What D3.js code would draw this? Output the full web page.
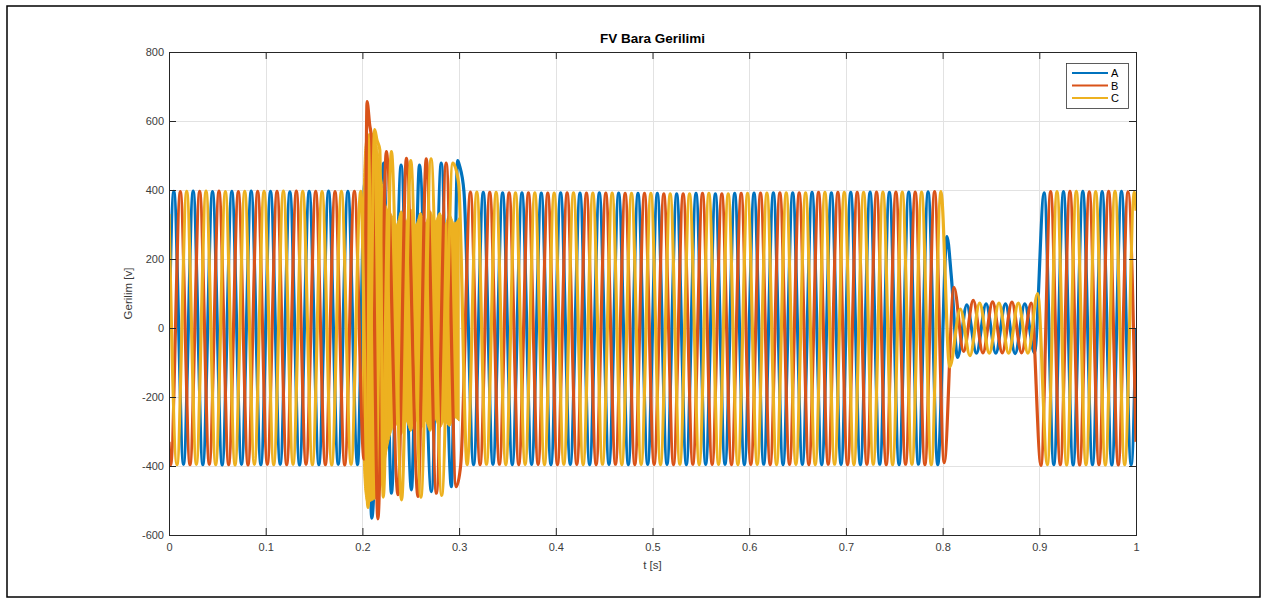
<!DOCTYPE html>
<html>
<head>
<meta charset="utf-8">
<script src="https://cdn.jsdelivr.net/npm/d3@7"></script>
<style>
  html, body { margin: 0; padding: 0; background: #fff; }
  svg { display: block; font-family: "Liberation Sans", Arial, Helvetica, sans-serif; }
</style>
</head>
<body>
<svg id="chart" width="1267" height="604"></svg>
<script>
// ---- data -------------------------------------------------------------
const phases  = ["A", "B", "C"];
const colours = ["#0072BD", "#D95319", "#EDB120"];

const xTicks = [0, 0.1, 0.2, 0.3, 0.4, 0.5, 0.6, 0.7, 0.8, 0.9, 1];
const yTicks = [-600, -400, -200, 0, 200, 400, 600, 800];

// Turning points of each phase voltage: [time s, voltage V]
const turnA = [
  [0,0],
  [0.005,396],[0.015,-395],[0.025,397],[0.035,-396],[0.045,395],[0.055,-397],[0.065,396],[0.075,-395],[0.085,397],[0.095,-396],
  [0.105,396],[0.115,-395],[0.125,395],[0.135,-397],[0.145,396],[0.155,-396],[0.165,397],[0.175,-395],[0.185,396],[0.195,-396],
  [0.2025,420],[0.2097,-551],[0.222,478],[0.230,-479],[0.240,472],[0.2507,-469],[0.259,472],[0.2713,-474],[0.2815,478],[0.292,-460],
  [0.2985,485],[0.3005,470],
  [0.305,396],[0.315,-396],[0.325,393],[0.335,-395],[0.345,392],[0.355,-396],[0.365,392],[0.375,-395],[0.385,391],[0.395,-396],
  [0.405,392],[0.415,-395],[0.425,391],[0.435,-396],[0.445,392],[0.455,-395],[0.465,391],[0.475,-396],[0.485,390],[0.495,-395],
  [0.505,390],[0.515,-395],[0.525,389],[0.535,-396],[0.545,390],[0.555,-395],[0.565,389],[0.575,-395],[0.585,390],[0.595,-396],
  [0.605,391],[0.615,-395],[0.625,392],[0.635,-396],[0.645,392],[0.655,-395],[0.665,393],[0.675,-396],[0.685,392],[0.695,-395],
  [0.705,393],[0.715,-396],[0.725,394],[0.735,-395],[0.745,393],[0.755,-396],[0.765,394],[0.775,-395],[0.785,395],[0.795,-396],
  [0.8045,265],[0.809,150],[0.8155,-85],[0.825,67],[0.835,-73],[0.845,70],[0.855,-73],[0.865,70],[0.875,-74],[0.885,70],[0.895,-72],
  [0.905,392],[0.915,-396],[0.925,395],[0.935,-397],[0.945,396],[0.955,-396],[0.965,395],[0.975,-397],[0.985,396],[0.995,-396],
  [1.0,0]
];

const turnB = [
  [0,-330],
  [0.0017,-396],[0.0117,395],[0.0217,-396],[0.0317,396],[0.0417,-395],[0.0517,397],[0.0617,-396],[0.0717,395],[0.0817,-397],[0.0917,396],
  [0.1017,-395],[0.1117,396],[0.1217,-396],[0.1317,397],[0.1417,-395],[0.1517,396],[0.1617,-396],[0.1717,395],[0.1817,-397],[0.1917,396],
  [0.2017,-380],[0.2048,656],[0.2075,590],[0.2095,548],[0.216,-553],[0.2248,511],[0.2368,-483],[0.2455,492],[0.2575,-488],[0.266,490],
  [0.2765,-479],[0.2866,478],[0.297,-460],
  [0.3017,-396],[0.3117,394],[0.3217,-396],[0.3317,393],[0.3417,-395],[0.3517,392],[0.3617,-396],[0.3717,392],[0.3817,-395],[0.3917,391],
  [0.4017,-396],[0.4117,392],[0.4217,-395],[0.4317,391],[0.4417,-396],[0.4517,391],[0.4617,-395],[0.4717,390],[0.4817,-396],[0.4917,390],
  [0.5017,-395],[0.5117,389],[0.5217,-396],[0.5317,389],[0.5417,-395],[0.5517,390],[0.5617,-395],[0.5717,389],[0.5817,-396],[0.5917,390],
  [0.6017,-395],[0.6117,391],[0.6217,-396],[0.6317,392],[0.6417,-395],[0.6517,392],[0.6617,-396],[0.6717,393],[0.6817,-395],[0.6917,393],
  [0.7017,-396],[0.7117,393],[0.7217,-395],[0.7317,394],[0.7417,-396],[0.7517,394],[0.7617,-395],[0.7717,394],[0.7817,-396],[0.7917,395],
  [0.8017,-390],[0.8117,118],[0.8217,-68],[0.8317,80],[0.8417,-72],[0.8517,76],[0.8617,-72],[0.8717,75],[0.8817,-72],[0.8917,72],
  [0.9017,-398],[0.9117,395],[0.9217,-396],[0.9317,396],[0.9417,-397],[0.9517,395],[0.9617,-396],[0.9717,396],[0.9817,-397],[0.9917,395],
  [1.0,-330]
];

const turnC = [
  [0,330],
  [0.0083,-396],[0.0183,396],[0.0283,-395],[0.0383,397],[0.0483,-396],[0.0583,395],[0.0683,-397],[0.0783,396],[0.0883,-395],[0.0983,396],
  [0.1083,-396],[0.1183,397],[0.1283,-395],[0.1383,396],[0.1483,-396],[0.1583,395],[0.1683,-397],[0.1783,396],[0.1883,-395],[0.1983,396],
  [0.2058,-520],[0.2127,575],[0.215,545],[0.218,516],[0.2215,-490],[0.230,511],[0.2405,-498],[0.250,485],[0.2605,-490],[0.271,490],
  [0.282,-485],[0.2935,478],[0.2995,420],
  [0.3083,-396],[0.3183,394],[0.3283,-395],[0.3383,393],[0.3483,-396],[0.3583,392],[0.3683,-395],[0.3783,392],[0.3883,-396],[0.3983,391],
  [0.4083,-395],[0.4183,392],[0.4283,-396],[0.4383,391],[0.4483,-395],[0.4583,391],[0.4683,-396],[0.4783,390],[0.4883,-395],[0.4983,390],
  [0.5083,-396],[0.5183,389],[0.5283,-395],[0.5383,389],[0.5483,-396],[0.5583,390],[0.5683,-395],[0.5783,389],[0.5883,-396],[0.5983,390],
  [0.6083,-395],[0.6183,391],[0.6283,-396],[0.6383,392],[0.6483,-395],[0.6583,392],[0.6683,-396],[0.6783,393],[0.6883,-395],[0.6983,393],
  [0.7083,-396],[0.7183,393],[0.7283,-395],[0.7383,394],[0.7483,-396],[0.7583,394],[0.7683,-395],[0.7783,394],[0.7883,-396],[0.7983,395],
  [0.8073,-113],[0.8183,55],[0.8283,-80],[0.8383,72],[0.8483,-73],[0.8583,72],[0.8683,-73],[0.8783,72],[0.8883,-73],[0.8983,100],
  [0.9083,-396],[0.9183,395],[0.9283,-397],[0.9383,396],[0.9483,-396],[0.9583,395],[0.9683,-397],[0.9783,396],[0.9883,-396],[0.9983,394],
  [1.0,340]
];

// Envelope of the fast switching ripple on phase C during the 0.2–0.3 s disturbance
const rippleT  = [0.2, 0.2025, 0.205, 0.21, 0.215, 0.22, 0.225, 0.23, 0.235, 0.24, 0.245, 0.25, 0.255, 0.26,
                  0.265, 0.27, 0.275, 0.28, 0.285, 0.29, 0.295, 0.3];
const rippleHi = [300, 520, 560, 565, 530, 430, 350, 330, 300, 340, 310, 345, 300, 335,
                  305, 340, 310, 335, 300, 330, 305, 320];
const rippleLo = [-300, -470, -505, -500, -490, -450, -360, -300, -280, -310, -270, -300, -265, -295,
                  -270, -300, -265, -290, -270, -285, -260, -270];

const titleText = "FV Bara Gerilimi";
const xLabel = "t [s]";
const yLabel = "Gerilim [v]";

// ---- layout -----------------------------------------------------------
const plot = { left: 169, right: 1136, top: 52, bottom: 535 };
const axisColour = "#262626";
const gridColour = "#e2e2e2";
const tickColour = "#3c3c3c";

const svg = d3.select("#chart");

// figure frame
svg.append("rect")
  .attr("x", 7).attr("y", 6).attr("width", 1253).attr("height", 591)
  .attr("fill", "#fff").attr("stroke", "#000").attr("stroke-width", 1.5);

const x = d3.scaleLinear().domain([0, 1]).range([plot.left, plot.right]);
const y = d3.scaleLinear().domain([-600, 800]).range([plot.bottom, plot.top]);

// grid
const grid = svg.append("g").attr("stroke", gridColour).attr("stroke-width", 1);
grid.selectAll("line.gx").data(xTicks).join("line")
  .attr("x1", d => Math.round(x(d)) + 0.5).attr("x2", d => Math.round(x(d)) + 0.5)
  .attr("y1", plot.top).attr("y2", plot.bottom);
grid.selectAll("line.gy").data(yTicks).join("line")
  .attr("y1", d => Math.round(y(d)) + 0.5).attr("y2", d => Math.round(y(d)) + 0.5)
  .attr("x1", plot.left).attr("x2", plot.right);

// waveforms
svg.append("clipPath").attr("id", "plotClip")
  .append("rect").attr("x", plot.left).attr("y", plot.top)
  .attr("width", plot.right - plot.left).attr("height", plot.bottom - plot.top);

const waves = svg.append("g").attr("clip-path", "url(#plotClip)");
const line = d3.line().x(d => x(d[0])).y(d => y(d[1])).curve(d3.curveMonotoneX);
const lw = 3.2;

function drawPhase(data, colour) {
  waves.append("path").datum(data)
    .attr("fill", "none").attr("stroke", colour).attr("stroke-width", lw)
    .attr("stroke-linejoin", "round").attr("d", line);
}

drawPhase(turnA, colours[0]);

// ripple band of phase C
const rippleData = rippleT.map((t, i) => ({ t, hi: rippleHi[i], lo: rippleLo[i] }));
waves.append("path").datum(rippleData)
  .attr("fill", colours[2]).attr("stroke", colours[2]).attr("stroke-width", 1)
  .attr("d", d3.area().x(d => x(d.t)).y0(d => y(d.lo)).y1(d => y(d.hi)).curve(d3.curveMonotoneX));

drawPhase(turnB, colours[1]);
drawPhase(turnC, colours[2]);

// axes (ticks point inward, box on all sides)
function styleAxis(g) {
  g.selectAll(".domain").remove();
  g.selectAll(".tick line").attr("stroke", axisColour).attr("stroke-width", 1);
  g.selectAll(".tick text").attr("fill", tickColour).attr("font-size", 11)
    .attr("font-family", '"Liberation Sans", Arial, sans-serif');
}
const fmt = d => String(d);

svg.append("g").attr("transform", `translate(0,${plot.bottom})`)
  .call(d3.axisBottom(x).tickValues(xTicks).tickFormat(fmt).tickSizeInner(-7).tickSizeOuter(0).tickPadding(8))
  .call(styleAxis);
svg.append("g").attr("transform", `translate(0,${plot.top})`)
  .call(d3.axisTop(x).tickValues(xTicks).tickFormat("").tickSizeInner(-7).tickSizeOuter(0))
  .call(styleAxis);
svg.append("g").attr("transform", `translate(${plot.left},0)`)
  .call(d3.axisLeft(y).tickValues(yTicks).tickFormat(fmt).tickSizeInner(-7).tickSizeOuter(0).tickPadding(5))
  .call(styleAxis);
svg.append("g").attr("transform", `translate(${plot.right},0)`)
  .call(d3.axisRight(y).tickValues(yTicks).tickFormat("").tickSizeInner(-7).tickSizeOuter(0))
  .call(styleAxis);

svg.append("rect")
  .attr("x", plot.left + 0.5).attr("y", plot.top + 0.5)
  .attr("width", plot.right - plot.left).attr("height", plot.bottom - plot.top)
  .attr("fill", "none").attr("stroke", axisColour).attr("stroke-width", 1);

// title and axis labels
svg.append("text").attr("x", (plot.left + plot.right) / 2).attr("y", 43)
  .attr("text-anchor", "middle").attr("font-size", 13.5).attr("font-weight", "bold")
  .attr("fill", "#000").text(titleText);
svg.append("text").attr("x", (plot.left + plot.right) / 2).attr("y", 569)
  .attr("text-anchor", "middle").attr("font-size", 11.5).attr("fill", tickColour).text(xLabel);
svg.append("text")
  .attr("transform", `translate(132,${(plot.top + plot.bottom) / 2}) rotate(-90)`)
  .attr("text-anchor", "middle").attr("font-size", 11.5).attr("fill", tickColour).text(yLabel);

// legend
const legend = svg.append("g");
legend.append("rect").attr("x", 1066.5).attr("y", 63.5).attr("width", 62).attr("height", 45)
  .attr("fill", "#fff").attr("stroke", "#333").attr("stroke-width", 0.8);
const rows = legend.selectAll("g.row").data(phases).join("g")
  .attr("transform", (d, i) => `translate(0,${73 + i * 12.5})`);
rows.append("line").attr("x1", 1072).attr("x2", 1108).attr("y1", 0).attr("y2", 0)
  .attr("stroke", (d, i) => colours[i]).attr("stroke-width", 2.2);
rows.append("text").attr("x", 1111).attr("y", 4).attr("font-size", 11)
  .attr("fill", "#000").text(d => d);
</script>
</body>
</html>
